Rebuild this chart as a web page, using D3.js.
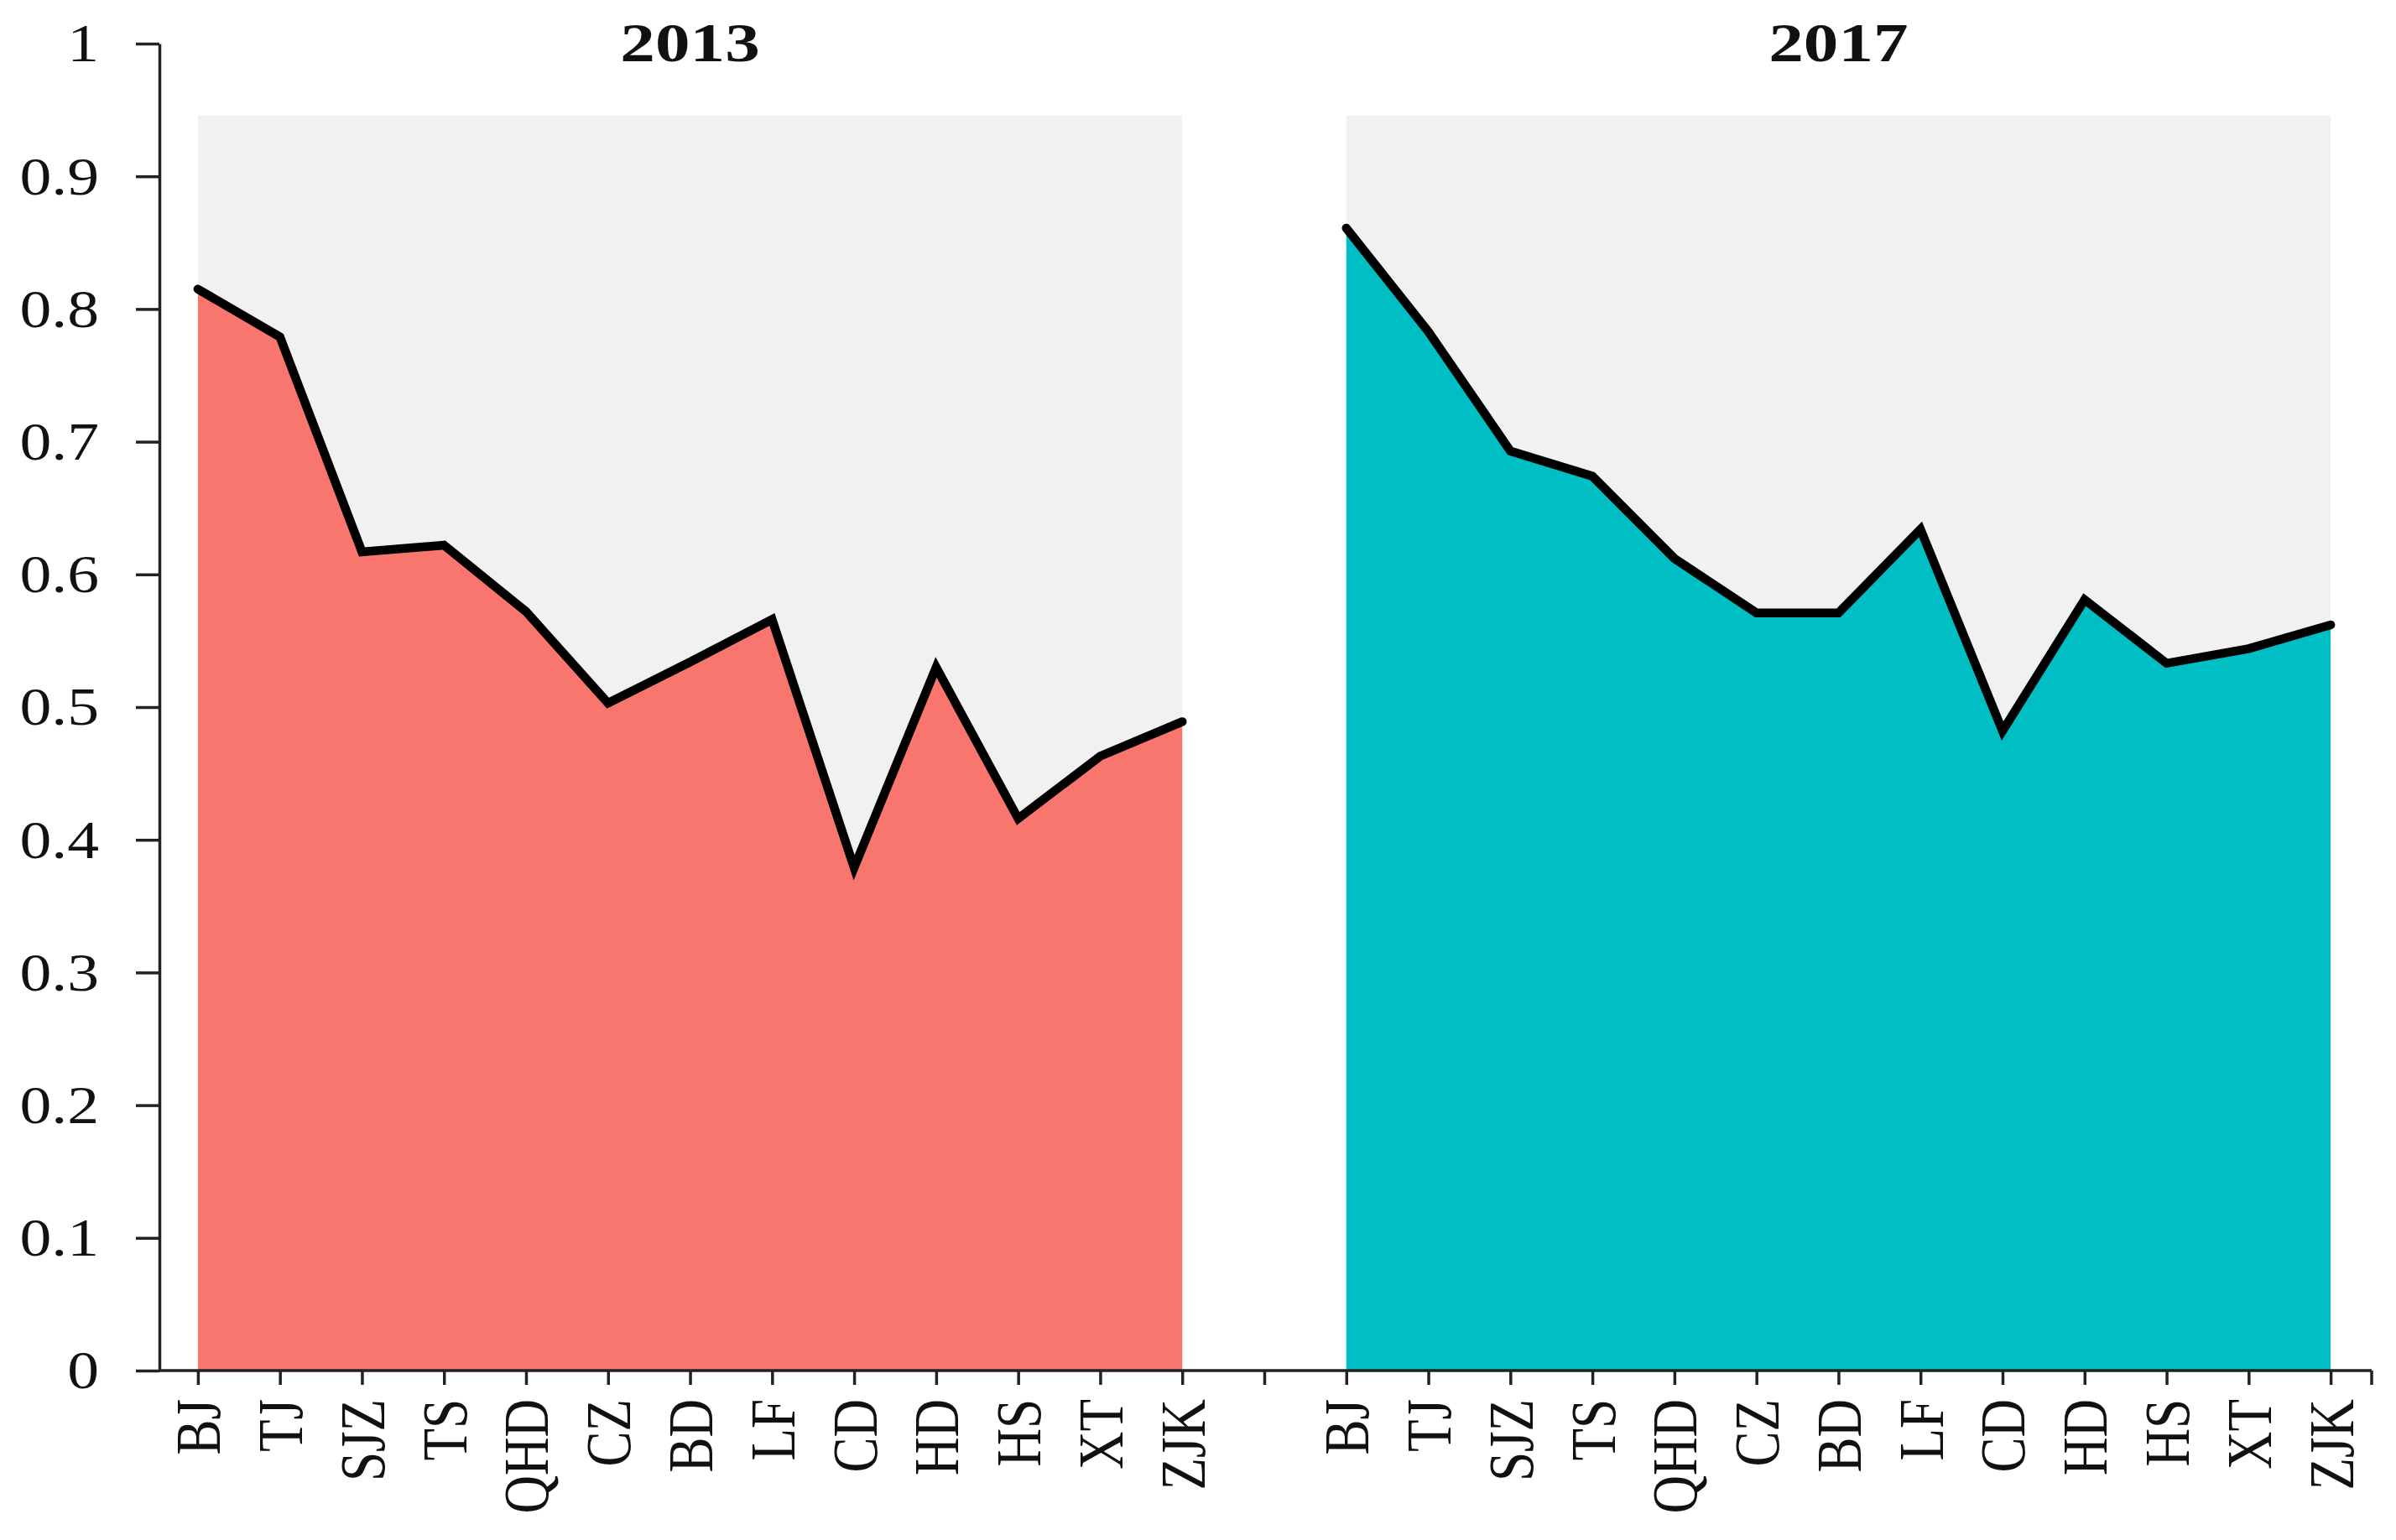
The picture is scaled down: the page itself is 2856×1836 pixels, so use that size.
<!DOCTYPE html>
<html>
<head>
<meta charset="utf-8">
<script src="https://cdn.jsdelivr.net/npm/d3@7"></script>
<style>
  html, body { margin: 0; padding: 0; background: #fff; }
  svg { display: block; }
  text { font-family: "Liberation Serif", "Times New Roman", serif; fill: #111; }
</style>
</head>
<body>
<script>
// ---- data ----
const categories = ["BJ","TJ","SJZ","TS","QHD","CZ","BD","LF","CD","HD","HS","XT","ZJK"];
const years = ["2013","2017"];
const values2013 = [0.815,0.779,0.617,0.622,0.572,0.503,0.534,0.566,0.379,0.530,0.416,0.463,0.489];
const values2017 = [0.861,0.783,0.693,0.674,0.612,0.571,0.571,0.634,0.482,0.581,0.533,0.544,0.562];
const yTicks = [0,0.1,0.2,0.3,0.4,0.5,0.6,0.7,0.8,0.9,1];
const panelTop = 0.946;
const fills = ["#F8766D","#00BFC4"];

// ---- layout ----
const W = 2856, H = 1836;
const svg = d3.select("body").append("svg").attr("width", W).attr("height", H);

const series = [values2013, values2017];
const keys = [];
years.forEach((yr, i) => {
  categories.forEach(c => keys.push(yr + "-" + c));
  if (i < years.length - 1) keys.push("gap");
});

const x = d3.scalePoint().domain(keys).range([187, 2827]).padding(0.5);
const y = d3.scaleLinear().domain([0, 1]).range([1634, 52]);
const axisX0 = 190;
const sx = 1.2; // horizontal text stretch

// panels
years.forEach((yr, i) => {
  const data = categories.map((c, j) => ({ k: yr + "-" + c, v: series[i][j] }));
  const x0 = x(data[0].k), x1 = x(data[data.length - 1].k);
  svg.append("rect")
    .attr("x", x0).attr("y", y(panelTop))
    .attr("width", x1 - x0).attr("height", y(0) - y(panelTop))
    .attr("fill", "#F1F1F1");
  const area = d3.area().x(d => x(d.k)).y0(y(0)).y1(d => y(d.v));
  svg.append("path").datum(data).attr("d", area).attr("fill", fills[i]);
  const line = d3.line().x(d => x(d.k)).y(d => y(d.v));
  svg.append("path").datum(data).attr("d", line)
    .attr("fill", "none").attr("stroke", "#000").attr("stroke-width", 10.5)
    .attr("stroke-linejoin", "miter").attr("stroke-linecap", "round");
  // title
  svg.append("text")
    .attr("transform", `translate(${(x0 + x1) / 2},${y(1) + 21}) scale(1.28,1)`)
    .attr("text-anchor", "middle")
    .attr("font-size", 65).attr("font-weight", "bold")
    .text(yr);
});

// y axis
const yAxis = d3.axisLeft(y).tickValues(yTicks).tickSize(28).tickSizeOuter(0).tickFormat("");
const gy = svg.append("g").attr("transform", `translate(${axisX0},0)`).call(yAxis);
gy.selectAll("path, line").attr("stroke", "#222").attr("stroke-width", 3.5);
svg.append("g").selectAll("text").data(yTicks).join("text")
  .attr("transform", d => `translate(${axisX0 - 72},${y(d)}) scale(${sx},1)`)
  .attr("text-anchor", "end").attr("dy", "0.34em")
  .attr("font-size", 63)
  .text(d => d === 0 ? "0" : d === 1 ? "1" : d.toFixed(1));

// x axis
const xAxis = d3.axisBottom(x).tickSize(17).tickSizeOuter(0).tickFormat("");
const gx = svg.append("g").attr("transform", `translate(0,${y(0)})`).call(xAxis);
gx.select(".domain").attr("d", `M${axisX0},0H${x.range()[1]}`);
gx.append("line").attr("x1", x.range()[1]).attr("x2", x.range()[1]).attr("y1", 0).attr("y2", 17);
gx.selectAll("path, line").attr("stroke", "#222").attr("stroke-width", 3.5);

const labelData = keys.filter(k => k !== "gap");
svg.append("g").selectAll("text").data(labelData).join("text")
  .attr("transform", d => `translate(${x(d)},${y(0) + 34}) scale(${sx},1) rotate(-90)`)
  .attr("text-anchor", "end").attr("dy", "0.35em")
  .attr("font-size", 63)
  .text(d => d.split("-")[1]);
</script>
</body>
</html>
